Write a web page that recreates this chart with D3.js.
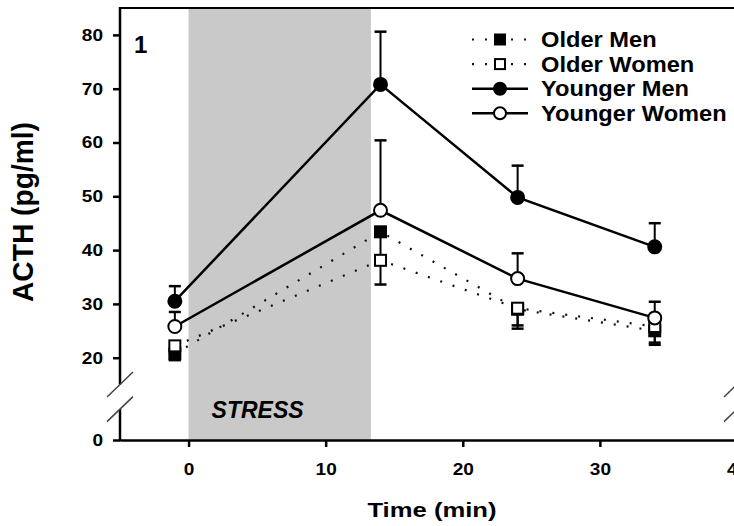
<!DOCTYPE html>
<html>
<head>
<meta charset="utf-8">
<script src="https://cdn.jsdelivr.net/npm/d3@7"></script>
<style>
  body { margin: 0; background: #fff; }
  text { font-family: "Liberation Sans", Arial, sans-serif; font-weight: bold; fill: #000; }
</style>
</head>
<body>
<script>
// time points (min)
var times = [-1, 14, 24, 34];

// mean ACTH (pg/ml) and SEM for each group
var olderMen = [20.7, 43.4, 29.0, 25.0];
var olderMenErr = [1.3, 4.5, 3.6, 2.6];
var olderWomen = [22.2, 38.1, 29.2, 25.8];
var olderWomenErr = [1.5, 4.5, 3.2, 3.0];
var youngerMen = [30.5, 70.8, 49.8, 40.6];
var youngerMenErr = [2.8, 9.8, 5.9, 4.4];
var youngerWomen = [25.8, 47.4, 34.7, 27.4];
var youngerWomenErr = [2.7, 13.0, 4.7, 3.0];

var groupNames = ["Older Men", "Older Women", "Younger Men", "Younger Women"];

// axes
var xTicks = [0, 10, 20, 30, 40];
var yTicks = [0, 20, 30, 40, 50, 60, 70, 80];
var stressWindow = [0, 13.3];
var yBreak = [7.5, 13.5];

window.onload = function() {
  var width = 734, height = 526;

  var svg = d3.select("body").append("svg")
    .attr("width", width)
    .attr("height", height);

  // x from -5 to 40 min, y axis broken below 20
  var x = d3.scaleLinear().domain([-5, 40]).range([120, 737]);
  var y = d3.scaleLinear().domain([0, 20, 85]).range([440, 357.7, 8]);

  // stretch text horizontally like the original figure
  function stretch(sel, sx) {
    sel.each(function() {
      var w = this.getComputedTextLength();
      d3.select(this).attr("textLength", w * sx).attr("lengthAdjust", "spacingAndGlyphs");
    });
  }

  // stress period
  svg.append("rect")
    .attr("x", x(stressWindow[0]))
    .attr("y", y(85))
    .attr("width", x(stressWindow[1]) - x(stressWindow[0]))
    .attr("height", y(0) - y(85))
    .attr("fill", "#c9c9c9");

  svg.append("text")
    .attr("x", x(stressWindow[0]) + 23)
    .attr("y", 418)
    .style("font-size", "23px")
    .style("font-style", "italic")
    .text("STRESS");

  // top border
  svg.append("line")
    .attr("x1", x(-5)).attr("x2", x(40))
    .attr("y1", y(85)).attr("y2", y(85))
    .attr("stroke", "#000").attr("stroke-width", 2);

  // x axis
  var xAxis = svg.append("g")
    .attr("transform", "translate(0," + y(0) + ")")
    .call(d3.axisBottom(x).tickValues(xTicks).tickSize(7).tickSizeOuter(0).tickPadding(16));
  xAxis.select(".domain").attr("stroke-width", 2.5);
  xAxis.selectAll(".tick line").attr("stroke-width", 2.5);
  xAxis.selectAll("text").style("font-size", "17px").style("font-family", "Liberation Sans, Arial, sans-serif")
    .style("font-weight", "bold").call(stretch, 1.12);

  // y axis (domain drawn by hand because of the break)
  var yAxis = svg.append("g")
    .attr("transform", "translate(" + x(-5) + ",0)")
    .call(d3.axisLeft(y).tickValues(yTicks).tickSize(7).tickPadding(10));
  yAxis.select(".domain").remove();
  yAxis.selectAll(".tick line").attr("stroke-width", 2.5);
  yAxis.selectAll("text").style("font-size", "17px").style("font-family", "Liberation Sans, Arial, sans-serif")
    .style("font-weight", "bold").call(stretch, 1.12);

  [x(-5), x(40)].forEach(function(ax) {
    svg.append("line")
      .attr("x1", ax).attr("x2", ax)
      .attr("y1", y(0) + 1.25).attr("y2", y(yBreak[0]))
      .attr("stroke", "#000").attr("stroke-width", 2.5);
    svg.append("line")
      .attr("x1", ax).attr("x2", ax)
      .attr("y1", y(yBreak[1])).attr("y2", y(85) - 1)
      .attr("stroke", "#000").attr("stroke-width", 2.5);
    // break marks
    yBreak.forEach(function(b) {
      svg.append("line")
        .attr("x1", ax - 13).attr("y1", y(b) + 12.5)
        .attr("x2", ax + 13).attr("y2", y(b) - 12.5)
        .attr("stroke", "#444").attr("stroke-width", 1.5);
    });
  });

  // axis titles
  svg.append("text")
    .attr("x", 432).attr("y", 517)
    .attr("text-anchor", "middle")
    .style("font-size", "20.5px")
    .text("Time (min)")
    .call(stretch, 1.25);

  svg.append("text")
    .attr("transform", "translate(33,212)rotate(-90)")
    .attr("text-anchor", "middle")
    .style("font-size", "29px")
    .attr("textLength", 180)
    .attr("lengthAdjust", "spacingAndGlyphs")
    .text("ACTH (pg/ml)");

  // panel number
  svg.append("text")
    .attr("x", 134).attr("y", 53)
    .style("font-size", "24px")
    .text("1");

  // groups: older have lower error bars and dotted lines, younger upper bars and solid lines
  var groups = [
    {name: groupNames[0], values: olderMen, err: olderMenErr, dir: -1, shape: "square", fill: "#000", dotted: true},
    {name: groupNames[1], values: olderWomen, err: olderWomenErr, dir: -1, shape: "square", fill: "#fff", dotted: true},
    {name: groupNames[2], values: youngerMen, err: youngerMenErr, dir: 1, shape: "circle", fill: "#000", dotted: false},
    {name: groupNames[3], values: youngerWomen, err: youngerWomenErr, dir: 1, shape: "circle", fill: "#fff", dotted: false}
  ];

  var line = d3.line()
    .x(function(d) { return x(d[0]); })
    .y(function(d) { return y(d[1]); });

  function styleLine(sel, dotted) {
    sel.attr("fill", "none")
      .attr("stroke", dotted ? "#111" : "#000")
      .attr("stroke-width", dotted ? 2.2 : 2.5)
      .attr("stroke-dasharray", dotted ? "2,11" : null);
  }

  groups.forEach(function(g) {
    var pts = times.map(function(t, i) { return [t, g.values[i]]; });
    svg.append("path").datum(pts).attr("d", line).call(styleLine, g.dotted);
  });

  // error bars
  groups.forEach(function(g) {
    times.forEach(function(t, i) {
      var end = g.values[i] + g.dir * g.err[i];
      svg.append("line")
        .attr("x1", x(t)).attr("x2", x(t))
        .attr("y1", y(g.values[i])).attr("y2", y(end))
        .attr("stroke", "#000").attr("stroke-width", 2);
      svg.append("line")
        .attr("x1", x(t) - 6).attr("x2", x(t) + 6)
        .attr("y1", y(end)).attr("y2", y(end))
        .attr("stroke", "#000").attr("stroke-width", 2.5);
    });
  });

  function marker(sel, g, cx, cy, size) {
    if (g.shape == "square") {
      sel.append("rect")
        .attr("x", cx - size / 2 + 1).attr("y", cy - size / 2 + 1)
        .attr("width", size - 2).attr("height", size - 2)
        .attr("fill", g.fill).attr("stroke", "#000").attr("stroke-width", 2);
    } else {
      sel.append("circle")
        .attr("cx", cx).attr("cy", cy).attr("r", size / 2 - 1)
        .attr("fill", g.fill).attr("stroke", "#000").attr("stroke-width", 2);
    }
  }

  // markers: filled first, open drawn on top
  [0, 2, 1, 3].forEach(function(k) {
    var g = groups[k];
    times.forEach(function(t, i) {
      marker(svg, g, x(t), y(g.values[i]), g.shape == "square" ? 13 : 15);
    });
  });

  // legend
  var legend = svg.append("g").attr("class", "legend");
  groups.forEach(function(g, i) {
    var ry = 39.5 + i * 24.6;
    legend.append("line")
      .attr("x1", 472).attr("x2", 528)
      .attr("y1", ry).attr("y2", ry)
      .call(styleLine, g.dotted);
    marker(legend, g, 500, ry, g.shape == "square" ? 12 : 14);
    legend.append("text")
      .attr("x", 541).attr("y", ry + 7.5)
      .style("font-size", "21.5px")
      .text(g.name)
      .call(stretch, 1.1);
  });
};
</script>
</body>
</html>
